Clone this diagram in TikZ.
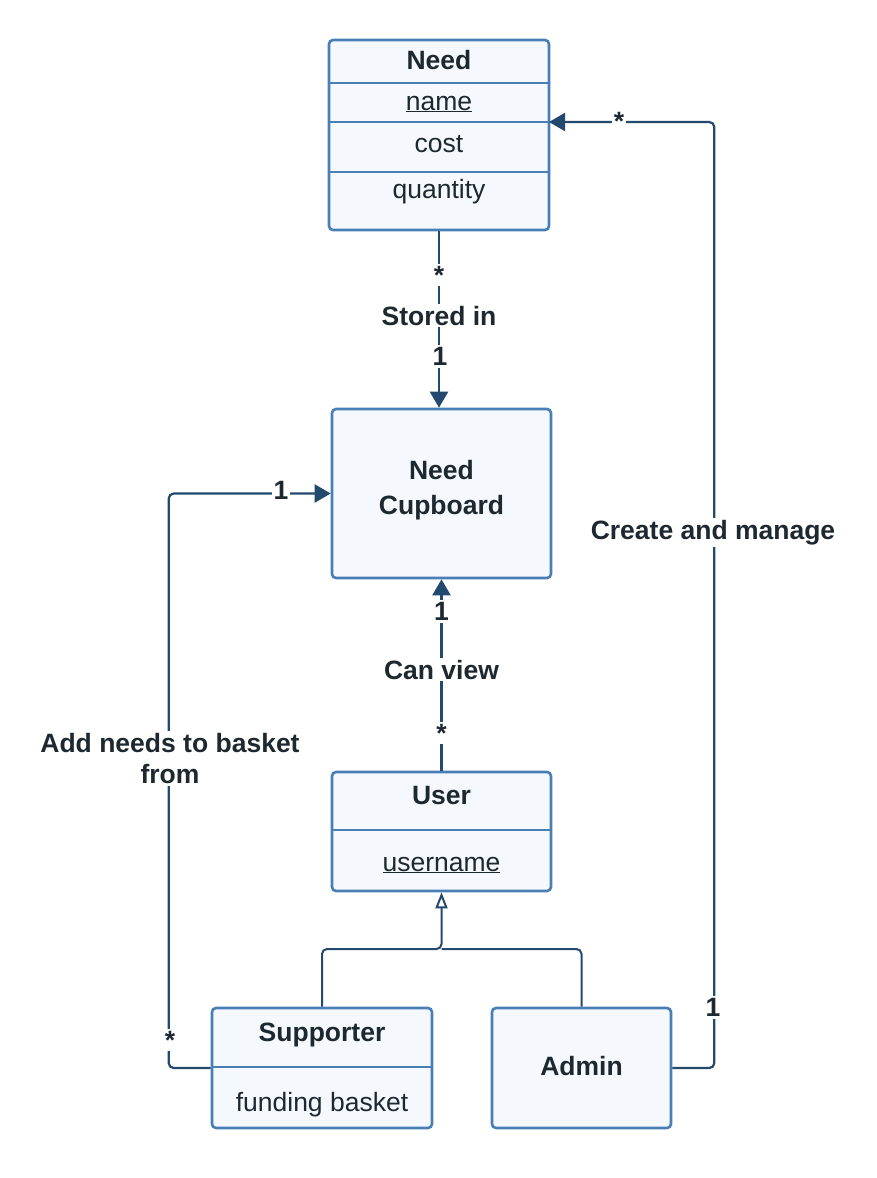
\documentclass[tikz,border=0pt]{standalone}
\usepackage{fontspec}
\setmainfont{Liberation Sans}
\usetikzlibrary{arrows.meta}
\definecolor{bord}{HTML}{4A7FB5}
\definecolor{boxfill}{HTML}{F5F9FE}
\definecolor{wirecol}{HTML}{234A6E}
\definecolor{ink}{HTML}{1E2830}
\begin{document}
\begin{tikzpicture}[x=1pt,y=-1pt,
  box/.style={draw=bord, fill=boxfill, line width=2.6pt, rounded corners=4pt, inner sep=0pt},
  sepline/.style={draw=bord, line width=2.6pt},
  txt/.style={text=ink, font=\fontsize{26.5}{31}\selectfont, inner sep=0pt, anchor=base},
  btxt/.style={text=ink, font=\fontsize{26.5}{31}\selectfont\bfseries, inner sep=0pt, anchor=base},
  lab/.style={text=ink, font=\fontsize{26.5}{31}\selectfont\bfseries, fill=white, inner sep=2pt, anchor=base},
  wire/.style={draw=wirecol, line width=2.2pt, rounded corners=5pt},
  fillarrow/.style={-{Triangle[length=16pt,width=18pt]}},
  genarrow/.style={-{Triangle[open,length=16pt,width=12pt,fill=white]}}
]
\fill[white] (0,0) rectangle (876,1178);
\useasboundingbox (0,0) rectangle (876,1178);

% boxes
\node[box, minimum width=220pt, minimum height=190pt] (need) at (439,135) {};
\node[box, minimum width=219pt, minimum height=169pt] (cup) at (441.5,493.5) {};
\node[box, minimum width=219pt, minimum height=119pt] (user) at (441.5,831.5) {};
\node[box, minimum width=220pt, minimum height=120pt] (sup) at (322,1068) {};
\node[box, minimum width=179pt, minimum height=120pt] (adm) at (581.5,1068) {};

% dividers
\draw[sepline] (need.west |- 0,83) -- (need.east |- 0,83);
\draw[sepline] (need.west |- 0,122) -- (need.east |- 0,122);
\draw[sepline] (need.west |- 0,172) -- (need.east |- 0,172);
\draw[sepline] (user.west |- 0,830) -- (user.east |- 0,830);
\draw[sepline] (sup.west |- 0,1067) -- (sup.east |- 0,1067);

% box texts
\node[btxt] (needT) at (439,69) {Need};
\node[txt] (needA) at (439,110) {\underline{name}};
\node[txt] (needB) at (439,152) {cost};
\node[txt] (needC) at (439,198) {quantity};
\node[btxt] (cupT1) at (441.5,479) {Need};
\node[btxt] (cupT2) at (441.5,514) {Cupboard};
\node[btxt] (userT) at (441.5,804) {User};
\node[txt] (userA) at (441.5,871) {\underline{username}};
\node[btxt] (supT) at (322,1041) {Supporter};
\node[txt] (supA) at (322,1111) {funding basket};
\node[btxt] (admT) at (581.5,1075) {Admin};

% connector ports
\coordinate (np) at (549,122);
\coordinate (j) at (441.5,949);

% Need -> Cupboard
\draw[wire, fillarrow] (need.south) -- (need.south |- cup.north);
\node[lab] (l1) at (439,284) {*};
\node[lab] (l2) at (439,325) {Stored in};
\node[lab] (l3) at (440,365.5) {1};

% User -> Cupboard
\draw[wire, fillarrow] (user.north) -- (cup.south);
\node[lab] (l4) at (441.5,620.5) {1};
\node[lab] (l5) at (441.5,679) {Can view};
\node[lab] (l6) at (441.5,742) {*};

% Supporter -> Cupboard
\draw[wire, fillarrow] (sup.west) -- ++(-42,0) |- (cup.west);
\node[lab] (l7) at (281,499) {1};
\node[lab] (l8) at (170,1049) {*};
\node[lab, align=center, anchor=center] (l9) at (170,758.5) {Add needs to basket\\from};

% Admin -> Need
\draw[wire, fillarrow] (adm.east) -- ++(42,0) |- (np);
\node[lab] (l10) at (619,130) {*};
\node[lab] (l11) at (713,1016.5) {1};
\node[lab] (l12) at (713,539) {Create and manage};

% generalization
\draw[wire, line width=2pt, genarrow] (sup.north) |- (j) -- (user.south);
\draw[wire, line width=2pt] (adm.north) |- (j);
\end{tikzpicture}
\end{document}
